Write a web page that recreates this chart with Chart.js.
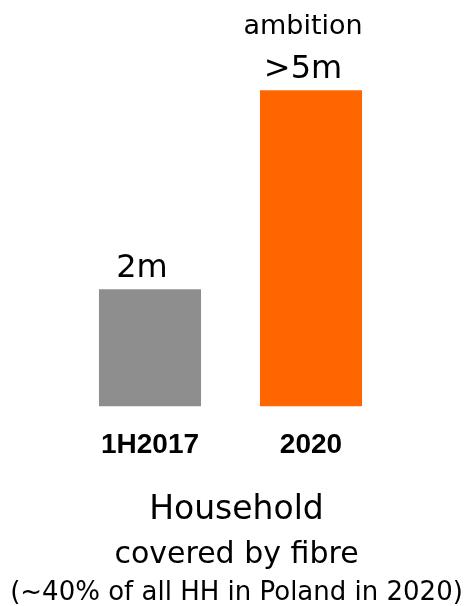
<!DOCTYPE html>
<html>
<head>
<meta charset="utf-8">
<script src="https://cdn.jsdelivr.net/npm/chart.js@4/dist/chart.umd.min.js"></script>
<style>
  html, body { margin: 0; padding: 0; background: #fff; }
  #wrap { width: 465px; height: 606px; position: relative; }
</style>
</head>
<body>
<div id="wrap"><canvas id="chart-fibra"></canvas></div>
<script>
// homes passed by fibre, millions
const periodos = ['1H2017', '2020']
const hogares = [2, 5.4]
const etiquetas = ['2m', '>5m']
const notas = ['', 'ambition']
const colores = ['#8e8e8e', '#ff6600']
const pie = ['Household', 'covered by fibre', '(~40% of all HH in Poland in 2020)']

// value text over each bar, plus the small note above it
const etiquetasBarras = {
  id: 'etiquetasBarras',
  afterDatasetsDraw(chart) {
    const ctx = chart.ctx
    const meta = chart.getDatasetMeta(0)
    ctx.save()
    ctx.fillStyle = '#000'
    ctx.textAlign = 'center'
    ctx.textBaseline = 'alphabetic'
    meta.data.forEach((bar, i) => {
      const x = bar.x - 8
      const y = bar.y - 12
      ctx.font = '32px "DejaVu Sans"'
      ctx.fillText(etiquetas[i], x, y)
      if (notas[i]) {
        ctx.font = '27px "DejaVu Sans"'
        ctx.fillText(notas[i], x, y - 44)
      }
    })
    ctx.restore()
  }
}

// caption block under the axis
const textoPie = {
  id: 'textoPie',
  afterDraw(chart) {
    const ctx = chart.ctx
    const cx = chart.width / 2 + 4
    const lineas = [
      { font: '33px "DejaVu Sans"', y: 519 },
      { font: '30px "DejaVu Sans"', y: 563 },
      { font: '26px "DejaVu Sans"', y: 600 }
    ]
    ctx.save()
    ctx.fillStyle = '#000'
    ctx.textAlign = 'center'
    ctx.textBaseline = 'alphabetic'
    pie.forEach((t, i) => {
      ctx.font = lineas[i].font
      ctx.fillText(t, cx, lineas[i].y)
    })
    ctx.restore()
  }
}

const ctx = document.getElementById('chart-fibra').getContext('2d')
new Chart(ctx, {
  type: 'bar',
  data: {
    labels: periodos,
    datasets: [{ data: hogares, backgroundColor: colores, borderWidth: 0, categoryPercentage: 1, barPercentage: 0.634 }]
  },
  options: {
    responsive: true,
    maintainAspectRatio: false,
    animation: false,
    layout: { padding: { top: 55, left: 69.5, right: 73.5, bottom: 122 } },
    plugins: { legend: { display: false }, tooltip: { enabled: false } },
    scales: {
      x: {
        grid: { display: false, drawTicks: false },
        border: { display: false },
        ticks: { color: '#000', padding: 22, font: { family: '"Liberation Sans"', size: 28, weight: 'bold', lineHeight: 1.2 } }
      },
      y: { display: false, min: 0, max: 6 }
    }
  },
  plugins: [etiquetasBarras, textoPie]
})
</script>
</body>
</html>
